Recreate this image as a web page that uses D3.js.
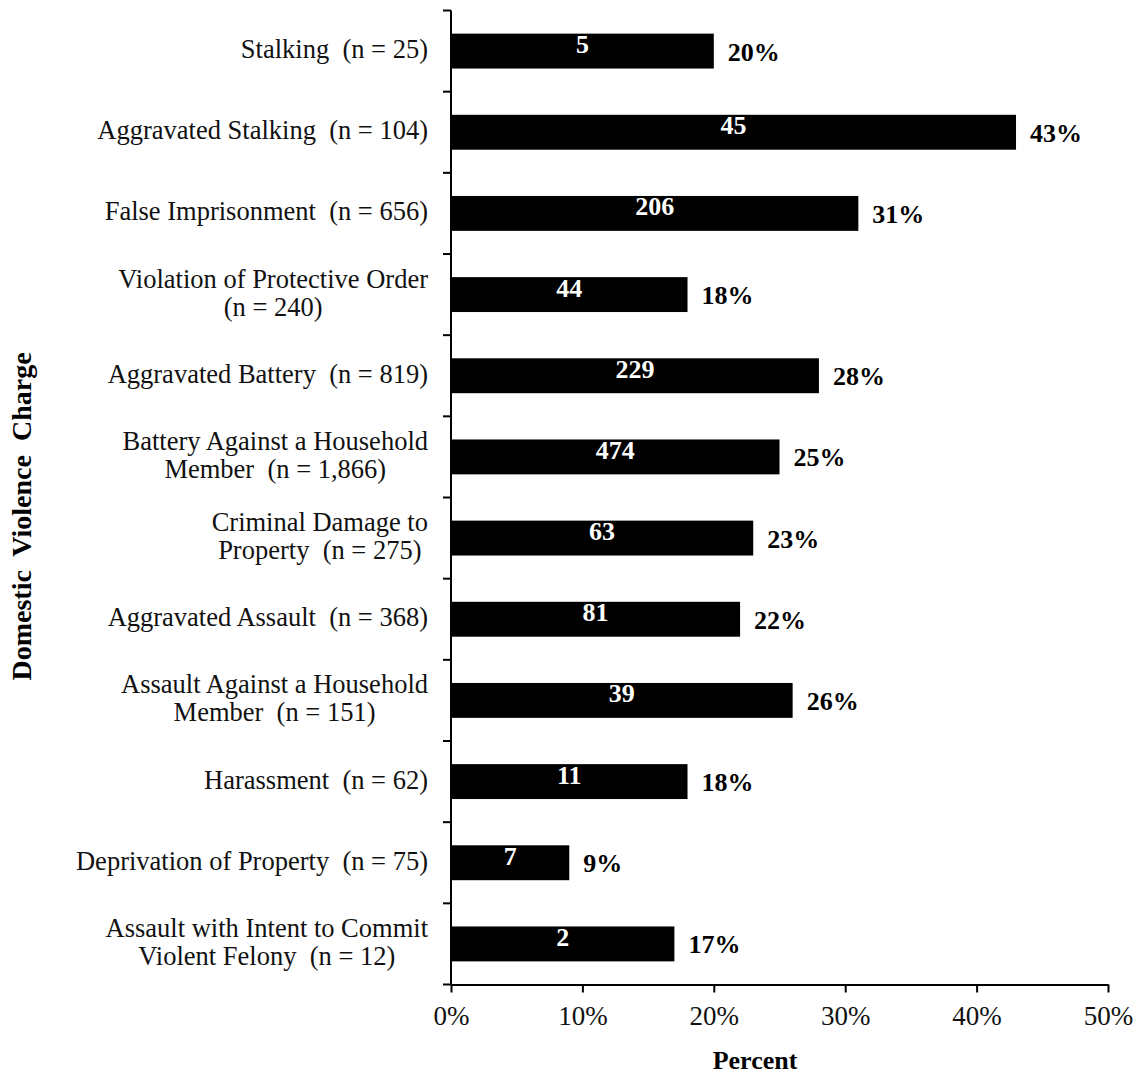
<!DOCTYPE html>
<html><head><meta charset="utf-8">
<script src="https://cdn.jsdelivr.net/npm/d3@7"></script>
<style>body{margin:0;background:#fff}svg{display:block}text{white-space:pre}</style>
</head><body>
<script>
const categories = [
  ["Stalking  (n = 25)"],
  ["Aggravated Stalking  (n = 104)"],
  ["False Imprisonment  (n = 656)"],
  ["Violation of Protective Order", "(n = 240)"],
  ["Aggravated Battery  (n = 819)"],
  ["Battery Against a Household", "Member  (n = 1,866)"],
  ["Criminal Damage to", "Property  (n = 275)"],
  ["Aggravated Assault  (n = 368)"],
  ["Assault Against a Household", "Member  (n = 151)"],
  ["Harassment  (n = 62)"],
  ["Deprivation of Property  (n = 75)"],
  ["Assault with Intent to Commit", "Violent Felony  (n = 12)"]
];
const percents = [20, 43, 31, 18, 28, 25, 23, 22, 26, 18, 9, 17];
const counts = [5, 45, 206, 44, 229, 474, 63, 81, 39, 11, 7, 2];
const xTicks = [0, 10, 20, 30, 40, 50];

(function() {
const W = 1140, H = 1074;
const mLeft = 451, mRight = 1108, mTop = 10.5, mBottom = 984.5;
const font = "'Liberation Serif', 'Times New Roman', serif";

const svg = d3.select("body").append("svg").attr("width", W).attr("height", H)
  .style("font-family", font);

const x = d3.scaleLinear().domain([0, 50]).range([mLeft, mRight]);
const y = d3.scaleBand().domain(d3.range(categories.length)).range([mTop, mBottom]).paddingInner(0.57).paddingOuter(0.285);
const step = y.step();

// bars
svg.append("g").selectAll("rect").data(percents).join("rect")
  .attr("x", x(0)).attr("y", (d, i) => y(i))
  .attr("width", d => x(d) - x(0)).attr("height", y.bandwidth())
  .attr("fill", "#000");

// count labels inside bars
svg.append("g").selectAll("text").data(counts).join("text")
  .attr("x", (d, i) => (x(0) + x(percents[i])) / 2)
  .attr("y", (d, i) => y(i) + y.bandwidth() / 2 + 2)
  .attr("text-anchor", "middle").attr("fill", "#fff")
  .attr("font-weight", "bold").attr("font-size", 26)
  .text(d => d);

// percent labels
svg.append("g").selectAll("text").data(percents).join("text")
  .attr("x", d => x(d) + 14)
  .attr("y", (d, i) => y(i) + y.bandwidth() / 2 + 9.5)
  .attr("fill", "#000").attr("font-weight", "bold").attr("font-size", 26)
  .text(d => d + "%");

// y axis line and ticks at band boundaries
const yAxis = svg.append("g");
yAxis.append("line").attr("x1", mLeft).attr("x2", mLeft).attr("y1", mTop).attr("y2", mBottom)
  .attr("stroke", "#000").attr("stroke-width", 2);
yAxis.selectAll("line.t").data(d3.range(categories.length + 1)).join("line").attr("class", "t")
  .attr("x1", mLeft - 8).attr("x2", mLeft).attr("y1", i => mTop + i * step).attr("y2", i => mTop + i * step)
  .attr("stroke", "#000").attr("stroke-width", 2);

// category labels
const lab = svg.append("g").attr("font-size", 26.5);
const rightEdge = 428;
categories.forEach((lines, i) => {
  const cy = y(i) + y.bandwidth() / 2;
  const lh = 28;
  const t = lab.append("text").attr("fill", "#111");
  lines.forEach((l, j) => {
    const w = lines.length;
    t.append("tspan").attr("x", rightEdge)
      .attr("y", cy + 7 + (j - (w - 1) / 2) * lh)
      .attr("text-anchor", "middle")
      .text(l);
  });
});
lab.selectAll("text").each(function() {
  const t = d3.select(this);
  const spans = t.selectAll("tspan");
  let maxW = 0;
  spans.each(function() { maxW = Math.max(maxW, this.getComputedTextLength()); });
  spans.attr("x", rightEdge - maxW / 2);
});

// x axis
const xAxis = svg.append("g").attr("transform", `translate(0,${mBottom})`)
  .call(d3.axisBottom(x).tickValues(xTicks).tickFormat(d => d + "%").tickSize(8).tickSizeOuter(0));
xAxis.select(".domain").attr("stroke", "#000").attr("stroke-width", 2);
xAxis.selectAll(".tick line").attr("stroke", "#000").attr("stroke-width", 2);
xAxis.selectAll(".tick text").attr("font-family", font).attr("font-size", 27).attr("fill", "#111")
  .attr("dy", 0).attr("y", 40.5);

// axis titles
svg.append("text").attr("x", 755).attr("y", 1069)
  .attr("text-anchor", "middle").attr("font-weight", "bold").attr("font-size", 26)
  .text("Percent");
svg.append("text").attr("transform", `translate(31,516.5) rotate(-90)`)
  .attr("text-anchor", "middle").attr("font-weight", "bold").attr("font-size", 28)
  .text("Domestic  Violence  Charge");
})();
</script>
</body></html>
